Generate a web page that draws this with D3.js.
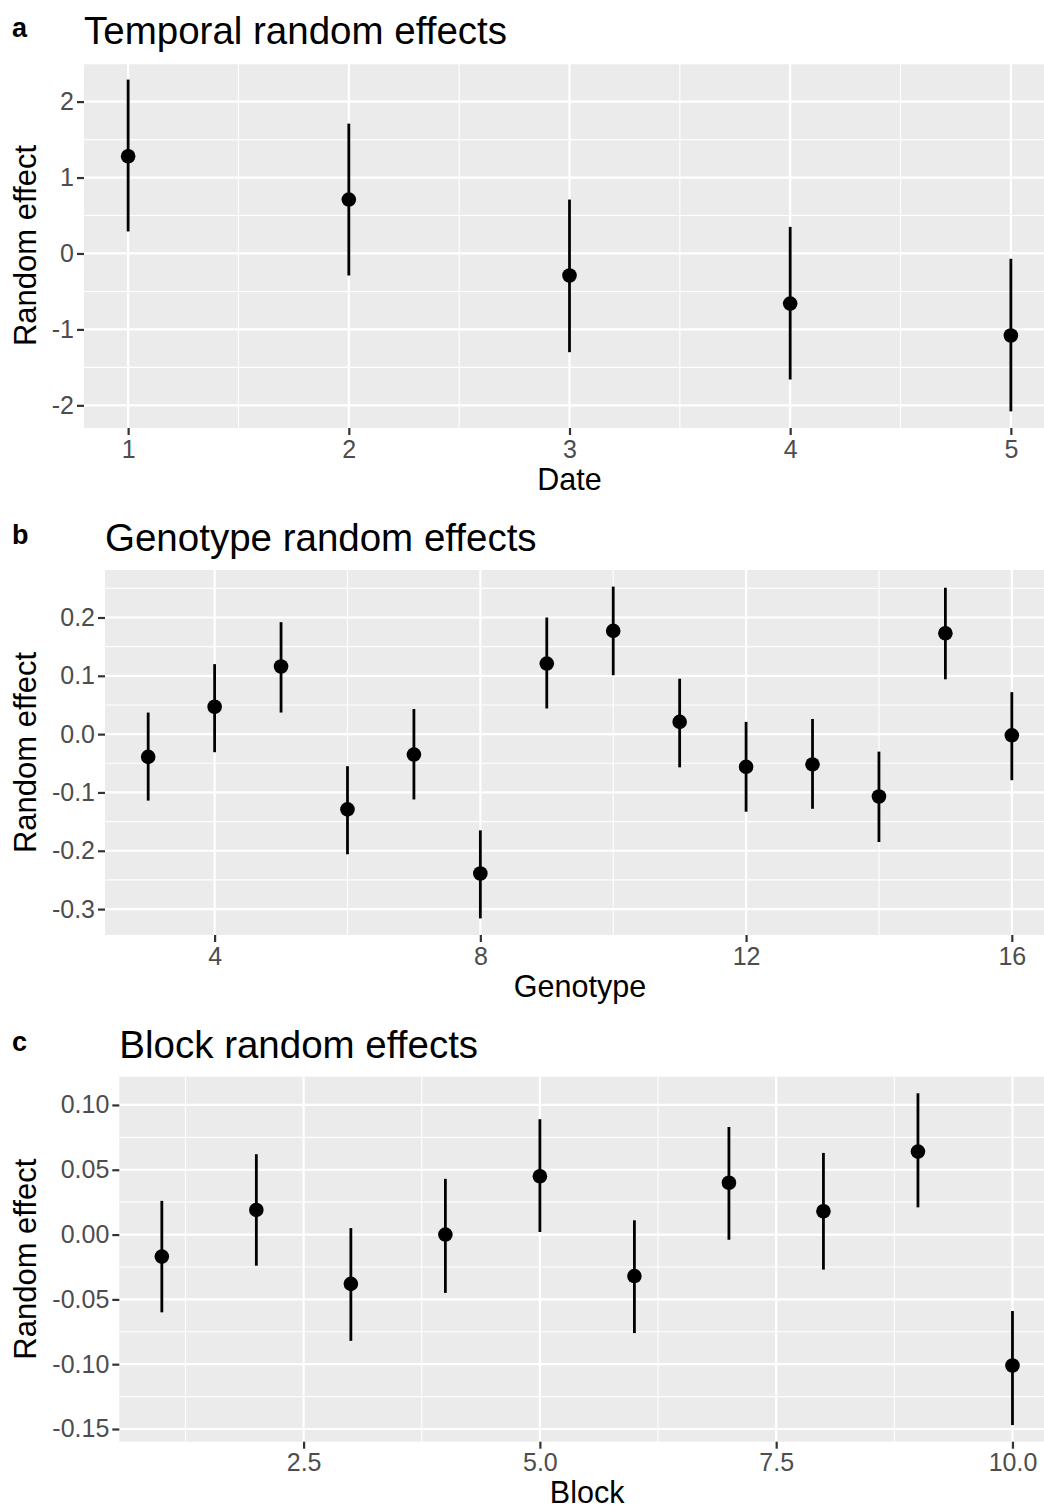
<!DOCTYPE html>
<html>
<head>
<meta charset="utf-8">
<script src="https://cdn.jsdelivr.net/npm/d3@7"></script>
<style>
  html, body { margin: 0; padding: 0; background: #ffffff; }
  svg { display: block; font-family: "Liberation Sans", Arial, Helvetica, sans-serif; }
</style>
</head>
<body>
<svg id="chart" width="1044" height="1509"></svg>
<script>
// ---------- Data ----------
// Panel a: temporal random effects
const dates = [1, 2, 3, 4, 5];
const dateEffect = [1.28, 0.71, -0.29, -0.66, -1.08];
const dateLower  = [0.29, -0.29, -1.30, -1.66, -2.08];
const dateUpper  = [2.29, 1.71, 0.71, 0.35, -0.07];
const dateXTicks = [1, 2, 3, 4, 5];
const dateXTickLabels = ["1", "2", "3", "4", "5"];
const dateYTicks = [-2, -1, 0, 1, 2];
const dateYTickLabels = ["-2", "-1", "0", "1", "2"];

// Panel b: genotype random effects
const genotypes = [3, 4, 5, 6, 7, 8, 9, 10, 11, 12, 13, 14, 15, 16];
const genoEffect = [-0.039, 0.047, 0.116, -0.129, -0.035, -0.239, 0.121, 0.177, 0.021, -0.056, -0.052, -0.107, 0.173, -0.002];
const genoLower  = [-0.114, -0.031, 0.037, -0.206, -0.112, -0.316, 0.044, 0.101, -0.057, -0.133, -0.128, -0.185, 0.094, -0.079];
const genoUpper  = [0.037, 0.120, 0.192, -0.055, 0.043, -0.165, 0.200, 0.253, 0.095, 0.021, 0.026, -0.030, 0.251, 0.072];
const genoXTicks = [4, 8, 12, 16];
const genoXTickLabels = ["4", "8", "12", "16"];
const genoYTicks = [-0.3, -0.2, -0.1, 0.0, 0.1, 0.2];
const genoYTickLabels = ["-0.3", "-0.2", "-0.1", "0.0", "0.1", "0.2"];

// Panel c: block random effects
const blocks = [1, 2, 3, 4, 5, 6, 7, 8, 9, 10];
const blockEffect = [-0.017, 0.019, -0.038, 0.000, 0.045, -0.032, 0.040, 0.018, 0.064, -0.101];
const blockLower  = [-0.060, -0.024, -0.082, -0.045, 0.002, -0.076, -0.004, -0.027, 0.021, -0.147];
const blockUpper  = [0.026, 0.062, 0.005, 0.043, 0.089, 0.011, 0.083, 0.063, 0.109, -0.059];
const blockXTicks = [2.5, 5.0, 7.5, 10.0];
const blockXTickLabels = ["2.5", "5.0", "7.5", "10.0"];
const blockYTicks = [-0.15, -0.10, -0.05, 0.00, 0.05, 0.10];
const blockYTickLabels = ["-0.15", "-0.10", "-0.05", "0.00", "0.05", "0.10"];

const panelTags = ["a", "b", "c"];
const panelTitles = ["Temporal random effects", "Genotype random effects", "Block random effects"];
const xTitles = ["Date", "Genotype", "Block"];
const yTitle = "Random effect";

// ---------- Drawing ----------
const svg = d3.select("#chart");

function expand(lo, hi) {
  const pad = (hi - lo) * 0.05;
  return [lo - pad, hi + pad];
}

function midpoints(ticks, domain) {
  const step = ticks[1] - ticks[0];
  const out = [];
  for (let v = ticks[0] - step / 2; v <= domain[1] + 1e-9; v += step) {
    if (v >= domain[0] - 1e-9) out.push(v);
  }
  return out;
}

function drawPanel(cfg) {
  const g = svg.append("g").attr("transform", `translate(0,${cfg.offsetY})`);
  const top = 63, bottom = 428, left = cfg.left, right = 1055;

  const xDomain = expand(d3.min(cfg.x), d3.max(cfg.x));
  const yDomain = expand(d3.min(cfg.lower), d3.max(cfg.upper));
  const x = d3.scaleLinear().domain(xDomain).range([left, right]);
  const y = d3.scaleLinear().domain(yDomain).range([bottom, top]);

  // panel background
  g.append("rect").attr("x", left).attr("y", top)
    .attr("width", right - left).attr("height", bottom - top)
    .attr("fill", "#EBEBEB");

  // minor grid
  const xMinor = midpoints(cfg.xTicks, xDomain);
  const yMinor = midpoints(cfg.yTicks, yDomain);
  g.append("g").selectAll("line").data(yMinor).join("line")
    .attr("x1", left).attr("x2", right).attr("y1", d => y(d)).attr("y2", d => y(d))
    .attr("stroke", "#ffffff").attr("stroke-width", 1.1);
  g.append("g").selectAll("line").data(xMinor).join("line")
    .attr("y1", top).attr("y2", bottom).attr("x1", d => x(d)).attr("x2", d => x(d))
    .attr("stroke", "#ffffff").attr("stroke-width", 1.1);
  // major grid
  g.append("g").selectAll("line").data(cfg.yTicks).join("line")
    .attr("x1", left).attr("x2", right).attr("y1", d => y(d)).attr("y2", d => y(d))
    .attr("stroke", "#ffffff").attr("stroke-width", 2.2);
  g.append("g").selectAll("line").data(cfg.xTicks).join("line")
    .attr("y1", top).attr("y2", bottom).attr("x1", d => x(d)).attr("x2", d => x(d))
    .attr("stroke", "#ffffff").attr("stroke-width", 2.2);

  // axes
  const yAxis = d3.axisLeft(y).tickValues(cfg.yTicks)
    .tickFormat((d, i) => cfg.yLabels[i]).tickSize(7).tickPadding(3);
  const ya = g.append("g").attr("transform", `translate(${left},0)`).call(yAxis);
  const xAxis = d3.axisBottom(x).tickValues(cfg.xTicks)
    .tickFormat((d, i) => cfg.xLabels[i]).tickSize(7).tickPadding(5);
  const xa = g.append("g").attr("transform", `translate(0,${bottom})`).call(xAxis);
  [ya, xa].forEach(a => {
    a.select(".domain").remove();
    a.selectAll(".tick line").attr("stroke", "#333333").attr("stroke-width", 2.2);
    a.selectAll(".tick text").attr("fill", "#4D4D4D")
      .style("font-size", "25px").style("font-family", '"Liberation Sans", Arial, sans-serif');
  });

  // error bars
  const idx = d3.range(cfg.x.length);
  g.append("g").selectAll("line").data(idx).join("line")
    .attr("x1", i => x(cfg.x[i])).attr("x2", i => x(cfg.x[i]))
    .attr("y1", i => y(cfg.lower[i])).attr("y2", i => y(cfg.upper[i]))
    .attr("stroke", "#000000").attr("stroke-width", 2.8);
  // points
  g.append("g").selectAll("circle").data(idx).join("circle")
    .attr("cx", i => x(cfg.x[i])).attr("cy", i => y(cfg.effect[i]))
    .attr("r", 7.3).attr("fill", "#000000");

  // titles
  g.append("text").attr("x", 12).attr("y", 37)
    .attr("font-size", 27).attr("font-weight", "bold").attr("fill", "#000")
    .text(cfg.tag);
  g.append("text").attr("x", left).attr("y", 44)
    .attr("font-size", 38.5).attr("fill", "#000")
    .text(cfg.title);
  g.append("text").attr("x", (left + right) / 2).attr("y", 489.5)
    .attr("text-anchor", "middle").attr("font-size", 30.5).attr("fill", "#000")
    .text(cfg.xTitle);
  g.append("text")
    .attr("transform", `translate(36,${(top + bottom) / 2}) rotate(-90)`)
    .attr("text-anchor", "middle").attr("font-size", 31).attr("fill", "#000")
    .text(yTitle);
}

drawPanel({
  offsetY: 0, left: 84, tag: panelTags[0], title: panelTitles[0], xTitle: xTitles[0],
  x: dates, effect: dateEffect, lower: dateLower, upper: dateUpper,
  xTicks: dateXTicks, xLabels: dateXTickLabels, yTicks: dateYTicks, yLabels: dateYTickLabels
});
drawPanel({
  offsetY: 507, left: 105, tag: panelTags[1], title: panelTitles[1], xTitle: xTitles[1],
  x: genotypes, effect: genoEffect, lower: genoLower, upper: genoUpper,
  xTicks: genoXTicks, xLabels: genoXTickLabels, yTicks: genoYTicks, yLabels: genoYTickLabels
});
drawPanel({
  offsetY: 1013.7, left: 119.3, tag: panelTags[2], title: panelTitles[2], xTitle: xTitles[2],
  x: blocks, effect: blockEffect, lower: blockLower, upper: blockUpper,
  xTicks: blockXTicks, xLabels: blockXTickLabels, yTicks: blockYTicks, yLabels: blockYTickLabels
});
</script>
</body>
</html>
